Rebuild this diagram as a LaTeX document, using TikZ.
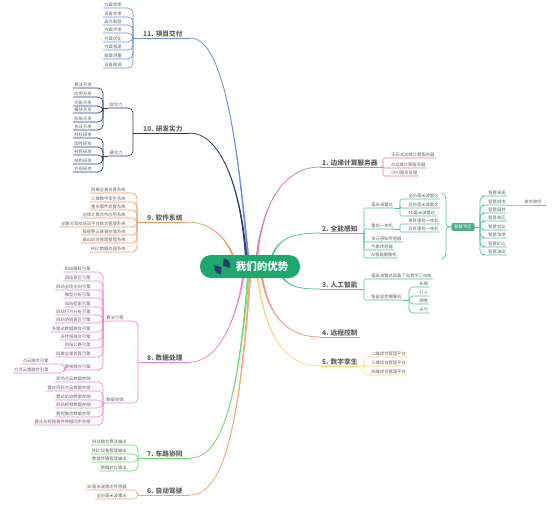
\documentclass[tikz,border=0pt]{standalone}
\usepackage{fontspec}
\setmainfont{Noto Sans CJK SC}
\definecolor{cBlue}{HTML}{6F8EE8}
\definecolor{cNavy}{HTML}{2C3A6E}
\definecolor{cOrange}{HTML}{F29A62}
\definecolor{cPink}{HTML}{EF86D0}
\definecolor{cGreen}{HTML}{6FDC6F}
\definecolor{cPeach}{HTML}{F5A67A}
\definecolor{cRose}{HTML}{E27AB5}
\definecolor{cTeal}{HTML}{55C29A}
\definecolor{cRed}{HTML}{F58F8F}
\definecolor{cYellow}{HTML}{F3DC80}
\definecolor{cPill}{HTML}{1FA86E}
\definecolor{cTxt}{HTML}{666666}
\tikzset{
  leaftext/.style={font=\fontsize{4.3}{5}\selectfont,text=cTxt,inner xsep=1.2pt,inner ysep=.8pt},
  mainlabel/.style={font=\fontsize{6.7}{8}\selectfont\bfseries,text=black!62,inner xsep=0pt,inner ysep=.8pt},
  leafwire/.style={line width=.65pt},
  mainwire/.style={line width=.7pt}
}
% left leaf: name, hub, right x, line y, text
\newcommand\leafL[5]{%
  \node[leaftext,anchor=south east] (#1) at (#3,#4) {#5};
  \draw[leafwire,draw=\bc,rounded corners=5pt] (#1.south west) -- (#2 |- #1.south) -- (#2);}
% right leaf: name, hub, left x, line y, text
\newcommand\leafR[5]{%
  \node[leaftext,anchor=south west] (#1) at (#3,#4) {#5};
  \draw[leafwire,draw=\bc,rounded corners=\rc] (#1.south east) -- (#1.south west) -- (#2 |- #1.south) -- (#2);}
% main branch, tapered towards the label: label, hub, joint, origin, c1, c2
\newcommand\mainwire[6]{%
  \draw[mainwire,draw=\bc] (#2) -- (#3);
  \draw[mainwire,draw=\bc,fill=\bc,line join=round] (#3) .. controls #5 and #6 .. ([xshift=-.7pt]#4) -- ([xshift=.7pt]#4) .. controls #6 and #5 .. (#3) -- cycle;}
\begin{document}
\begin{tikzpicture}[x=1pt,y=-1pt]
\useasboundingbox (0,0) rectangle (554,525);
\fill[white] (0,0) rectangle (554,525);
\def\rc{1.5pt}
% ---------- 11
\def\bc{cBlue}
\coordinate (h11) at (133,38); \coordinate (j11) at (190,38); \coordinate (o11) at (248,256);
\node[mainlabel,anchor=south west] (m11) at (143,38) {11. 项目交付};
\mainwire{m11}{h11}{j11}{o11}{(225,38)}{(238,150)}
\leafL{a1}{h11}{123}{8}{方案会审}
\leafL{a2}{h11}{123}{17}{设备会审}
\leafL{a3}{h11}{123}{25}{高点勘察}
\leafL{a4}{h11}{123}{33}{方案评审}
\leafL{a5}{h11}{123}{42}{方案优化}
\leafL{a6}{h11}{123}{50}{方案报建}
\leafL{a7}{h11}{123}{59}{勘察测量}
\leafL{a8}{h11}{123}{68}{设备联调}
% ---------- 10
\def\bc{cNavy}
\coordinate (h10) at (133,133); \coordinate (j10) at (190,133); \coordinate (o10) at (246,256);
\node[mainlabel,anchor=south west] (m10) at (143,133) {10. 研发实力};
\mainwire{m10}{h10}{j10}{o10}{(218,133)}{(240,180)}
\coordinate (hs) at (103,108); \coordinate (hh) at (103,156);
\leafL{bs}{h10}{124}{108}{软实力}
\leafL{bh}{h10}{124}{156}{硬实力}
\draw[leafwire,draw=\bc] (hs) -- (bs.south west);
\draw[leafwire,draw=\bc] (hh) -- (bh.south west);
\leafL{b1}{hs}{93}{88}{算法开发}
\leafL{b2}{hs}{93}{97}{应用开发}
\leafL{b3}{hs}{93}{106}{功能开发}
\leafL{b4}{hs}{93}{113}{模块开发}
\leafL{b5}{hs}{93}{122}{系统开发}
\leafL{b6}{hs}{93}{130}{协议开发}
\leafL{b7}{hh}{93}{138}{材料研发}
\leafL{b8}{hh}{93}{147}{固件研发}
\leafL{b9}{hh}{93}{155}{射频研发}
\leafL{b10}{hh}{93}{164}{结构研发}
\leafL{b11}{hh}{93}{172}{外观研发}
% ---------- 9
\def\bc{cOrange}
\coordinate (h9) at (137,222); \coordinate (j9) at (187,222); \coordinate (o9) at (233,256);
\node[mainlabel,anchor=south west] (m9) at (147,222) {9. 软件系统};
\mainwire{m9}{h9}{j9}{o9}{(208,222)}{(225,235)}
\leafL{c1}{h9}{127}{193}{四维全景仿真系统}
\leafL{c2}{h9}{127}{202}{三维数字孪生系统}
\leafL{c3}{h9}{127}{210}{重庆事件处置系统}
\leafL{c4}{h9}{127}{218}{边缘计算合作应用系统}
\leafL{c5}{h9}{127}{227}{全路况驾校培训平台综合管理系统}
\leafL{c6}{h9}{127}{235}{智能警云联调存储系统}
\leafL{c7}{h9}{127}{243}{高出综合管理管理系统}
\leafL{c8}{h9}{127}{252}{MEC数据处理系统}
% ---------- 8
\def\bc{cPink}
\coordinate (h8) at (138,362); \coordinate (j8) at (190,362); \coordinate (o8) at (243,278);
\node[mainlabel,anchor=south west] (m8) at (147,362) {8. 数据处理};
\mainwire{m8}{h8}{j8}{o8}{(222,362)}{(238,310)}
\coordinate (ha) at (103,321); \coordinate (hd) at (103,403); \coordinate (hc) at (65,370);
\leafL{da}{h8}{125}{321}{算法引擎}
\leafL{dd}{h8}{125}{403}{数据存储}
\draw[leafwire,draw=\bc] (ha) -- (da.south west);
\draw[leafwire,draw=\bc] (hd) -- (dd.south west);
\leafL{e1}{ha}{92}{272}{四站路段引擎}
\leafL{e2}{ha}{92}{281}{四站盲区引擎}
\leafL{e3}{ha}{92}{290}{四站全场全向引擎}
\leafL{e4}{ha}{92}{298}{微型分析引擎}
\leafL{e5}{ha}{92}{307}{四站检索引擎}
\leafL{e6}{ha}{92}{315}{四站行为分析引擎}
\leafL{e7}{ha}{92}{323}{四站协调盲区引擎}
\leafL{e8}{ha}{92}{332}{多雷达数据融合引擎}
\leafL{e9}{ha}{92}{340}{多传感融合引擎}
\leafL{e10}{ha}{92}{348}{四站公路引擎}
\leafL{e11}{ha}{92}{357}{四维全景仿真引擎}
\leafL{e12}{ha}{92}{370}{雷视融合引擎}
\draw[leafwire,draw=\bc] (hc) -- (e12.south west);
\leafL{f1}{hc}{50}{364}{点云融合引擎}
\leafL{f2}{hc}{50}{373}{方点云雷融合引擎}
\leafL{g1}{hd}{92}{382}{现场点云数据存储}
\leafL{g2}{hd}{92}{391}{雷达目标点云数据存储}
\leafL{g3}{hd}{92}{400}{雷达轨迹数据存储}
\leafL{g4}{hd}{92}{408}{四站视频数据存储}
\leafL{g5}{hd}{92}{417}{雷视融合数据存储}
\leafL{g6}{hd}{92}{425}{雷达与视频事件数据同步存储}
% ---------- 7
\def\bc{cGreen}
\coordinate (h7) at (138,458); \coordinate (j7) at (190,458); \coordinate (o7) at (248,278);
\node[mainlabel,anchor=south west] (m7) at (147,458) {7. 车路协同};
\mainwire{m7}{h7}{j7}{o7}{(222,458)}{(238,400)}
\leafL{k1}{h7}{128}{445}{四站融合算法输出}
\leafL{k2}{h7}{128}{454}{MEC设备管理输出}
\leafL{k3}{h7}{128}{462}{数据传输管理输出}
\leafL{k4}{h7}{128}{471}{数据对比输出}
% ---------- 6
\def\bc{cPeach}
\coordinate (h6) at (138,495); \coordinate (j6) at (190,495); \coordinate (o6) at (250,278);
\node[mainlabel,anchor=south west] (m6) at (147,495) {6. 自动驾驶};
\mainwire{m6}{h6}{j6}{o6}{(225,495)}{(240,420)}
\leafL{l1}{h6}{128}{490}{4D毫米波雷达传感器}
\leafL{l2}{h6}{128}{499}{全向毫米波雷达}
% ---------- 1
\def\bc{cRose}
\coordinate (h1) at (383,167); \coordinate (j1) at (320,167); \coordinate (o1) at (257,256);
\node[mainlabel,anchor=south west] (m1) at (322,167) {1. 边缘计算服务器};
\mainwire{m1}{h1}{j1}{o1}{(280,167)}{(262,210)}
\leafR{n1}{h1}{390}{158}{无压式边缘计算服务器}
\leafR{n2}{h1}{390}{168}{AI边缘计算服务器}
\leafR{n3}{h1}{390}{176}{GPU图形处理}
% ---------- 2
\def\bc{cTeal}
\coordinate (h2) at (364,233); \coordinate (j2) at (320,233); \coordinate (o2) at (272,256);
\node[mainlabel,anchor=south west] (m2) at (322,233) {2. 全能感知};
\mainwire{m2}{h2}{j2}{o2}{(290,233)}{(278,240)}
\coordinate (hr) at (400,208); \coordinate (hv) at (400,229);
\leafR{p1}{h2}{370}{208}{毫米波雷达}
\leafR{p2}{h2}{370}{229}{雷视一体机}
\leafR{p3}{h2}{370}{242}{多元感知传感器}
\leafR{p4}{h2}{370}{250}{气象传感器}
\leafR{p5}{h2}{370}{258}{AI智能摄像机}
\draw[leafwire,draw=\bc] (p1.south east) -- (hr);
\draw[leafwire,draw=\bc] (p2.south east) -- (hv);
\leafR{q1}{hr}{407}{199}{全向毫米波雷达}
\leafR{q2}{hr}{407}{208}{远向毫米波雷达}
\leafR{q3}{hr}{407}{216}{4D毫米波雷达}
\leafR{q4}{hv}{407}{224}{单目雷视一体机}
\leafR{q5}{hv}{407}{232}{双目雷视一体机}
\node[fill=cTeal!90!black,rounded corners=2pt,text=white,font=\fontsize{4.3}{5}\selectfont,inner xsep=3pt,inner ysep=2pt] (zh) at (463,227) {智慧专区};
\coordinate (bt) at (441,193); \coordinate (bb) at (441,259); \coordinate (hz) at (480,227);
\draw[leafwire,draw=\bc] (bt) .. controls (445,194) and (446,196) .. (446,202) -- (446,222) .. controls (446,226) and (447,227) .. (zh.west);
\draw[leafwire,draw=\bc] (bb) .. controls (445,258) and (446,256) .. (446,250) -- (446,232) .. controls (446,228) and (447,227) .. (zh.west);
\draw[leafwire,draw=\bc] (zh.east) -- (hz);
\def\rc{5pt}
\leafR{r1}{hz}{487}{196}{智慧高速}
\leafR{r2}{hz}{487}{205}{智慧城市}
\leafR{r3}{hz}{487}{213}{智慧园林}
\leafR{r4}{hz}{487}{221}{智慧景区}
\leafR{r5}{hz}{487}{230}{智慧农业}
\leafR{r6}{hz}{487}{238}{智慧海港}
\leafR{r7}{hz}{487}{247}{智慧矿山}
\leafR{r8}{hz}{487}{255}{智慧油田}
\def\rc{1.5pt}
\node[leaftext,anchor=south west] (r9) at (523,205) {城市微空};
\draw[leafwire,draw=\bc] (r2.south east) -- (r9.south west) -- ([xshift=3pt]r9.south east);
% ---------- 3
\coordinate (h3) at (364,289); \coordinate (j3) at (320,289); \coordinate (o3) at (283,278);
\node[mainlabel,anchor=south west] (m3) at (322,289) {3. 人工智能};
\mainwire{m3}{h3}{j3}{o3}{(300,289)}{(290,287)}
\leafR{s1}{h3}{370}{279}{毫米波雷达具备了自我学习功能}
\leafR{s2}{h3}{370}{300}{智能监控摄像机}
\coordinate (hm) at (409,300);
\draw[leafwire,draw=\bc] (s2.south east) -- (hm);
\def\rc{4pt}
\leafR{t1}{hm}{418}{287}{车辆}
\leafR{t2}{hm}{418}{296}{行人}
\leafR{t3}{hm}{418}{304}{拥堵}
\leafR{t4}{hm}{418}{313}{天气}
\def\rc{1.5pt}
% ---------- 4
\def\bc{cRed}
\coordinate (h4) at (360,337); \coordinate (j4) at (320,337); \coordinate (o4) at (262,278);
\node[mainlabel,anchor=south west] (m4) at (322,337) {4. 远程控制};
\mainwire{m4}{h4}{j4}{o4}{(290,337)}{(270,320)}
% ---------- 5
\def\bc{cYellow}
\coordinate (h5) at (364,366); \coordinate (j5) at (320,366); \coordinate (o5) at (258,278);
\node[mainlabel,anchor=south west] (m5) at (322,366) {5. 数字孪生};
\mainwire{m5}{h5}{j5}{o5}{(285,366)}{(265,335)}
\leafR{u1}{h5}{370}{357}{二维综合管理平台}
\leafR{u2}{h5}{370}{366}{三维综合管理平台}
\leafR{u3}{h5}{370}{375}{四维综合管理平台}
% ---------- centre
\fill[cPill,rounded corners=11pt] (200,255) rectangle (300,278);
\node[text=white,font=\fontsize{10.5}{12}\selectfont\bfseries,inner sep=0pt] (pill) at (262,266.5) {我们的优势};
\fill[cNavy] (221.5,267) -- ++(165:7.5pt) arc[start angle=165,end angle=265,radius=7.5pt] -- cycle;
\fill[cNavy] (223,266) -- ++(-15:7.5pt) arc[start angle=-15,end angle=85,radius=7.5pt] -- cycle;
\end{tikzpicture}
\end{document}
